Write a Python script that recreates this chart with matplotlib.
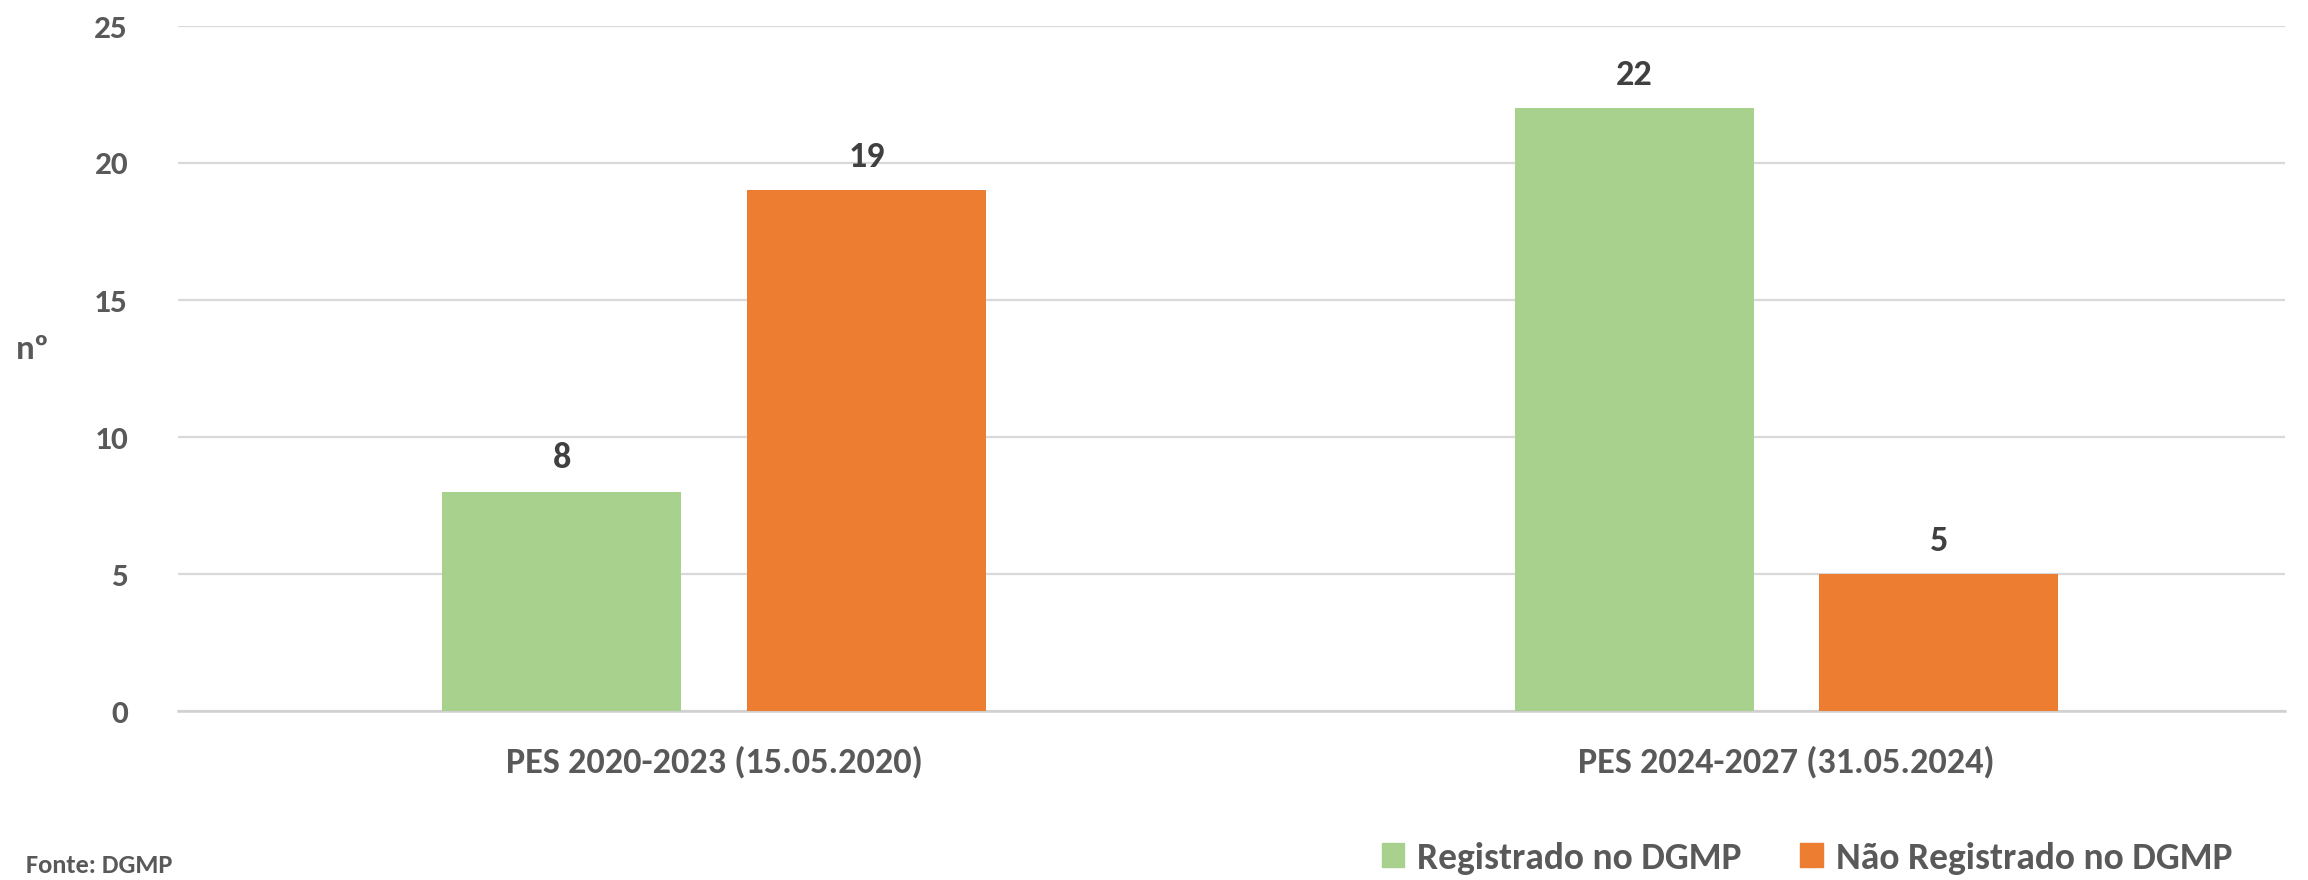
# bar chart: PES actions registered / not registered in DGMP
import numpy as np
import matplotlib.pyplot as plt
from matplotlib.patches import Patch

plt.rcParams['font.family'] = ['Carlito', 'Lato', 'DejaVu Sans']
plt.rcParams['font.weight'] = 'bold'

# data
categories = ['PES 2020-2023 (15.05.2020)', 'PES 2024-2027 (31.05.2024)']
registrado = [8, 22]
nao_registrado = [19, 5]
series_names = ['Registrado no DGMP', 'Não Registrado no DGMP']
yticks = [0, 5, 10, 15, 20, 25]

green = '#a9d18e'
orange = '#ed7d31'
grey_txt = '#595959'

fig = plt.figure(figsize=(23.08, 8.8), dpi=100)
ax = fig.add_axes([178/2308, 1-711/880, (2285-178)/2308, (711-26)/880])

x = np.arange(len(categories))
w = 0.223
off = 0.142
b1 = ax.bar(x - off, registrado, w, color=green, zorder=3)
b2 = ax.bar(x + off, nao_registrado, w, color=orange, zorder=3)

for bars, vals in [(b1, registrado), (b2, nao_registrado)]:
    for b, v in zip(bars, vals):
        ax.annotate(str(v), (b.get_x() + b.get_width()/2, v),
                    xytext=(0, 24), textcoords='offset points',
                    ha='center', va='center', fontsize=26,
                    fontweight='bold', color='#404040')

ax.set_xlim(-0.5, 1.465)
ax.set_ylim(0, 25)
ax.set_yticks(yticks)
ax.set_xticks(x)
ax.set_xticklabels(categories)
ax.grid(axis='y', color='#d9d9d9', linewidth=1.6, zorder=0)
ax.tick_params(axis='y', length=0, pad=36, labelsize=24, labelcolor=grey_txt)
ax.tick_params(axis='x', length=0, pad=25, labelsize=26, labelcolor=grey_txt)
for s in ['top', 'right', 'left']:
    ax.spines[s].set_visible(False)
ax.spines['bottom'].set_color('#d0d0d0')
ax.spines['bottom'].set_linewidth(1.8)

fig.text(0.007, 1-349/880, 'nº', fontsize=25, fontweight='bold',
         color=grey_txt, va='center', ha='left')
fig.text(26/2308, 1-865/880, 'Fonte: DGMP', fontsize=19, fontweight='bold',
         color=grey_txt, va='center', ha='left')

handles = [Patch(color=green), Patch(color=orange)]
leg = fig.legend(handles, series_names, loc='center', ncol=2,
                 bbox_to_anchor=(1807/2308, 1-858/880), frameon=False,
                 fontsize=27, handlelength=0.6, handleheight=0.6,
                 handletextpad=0.35, columnspacing=1.55)
for t in leg.get_texts():
    t.set_color(grey_txt)

plt.savefig('out.png', dpi=100)
